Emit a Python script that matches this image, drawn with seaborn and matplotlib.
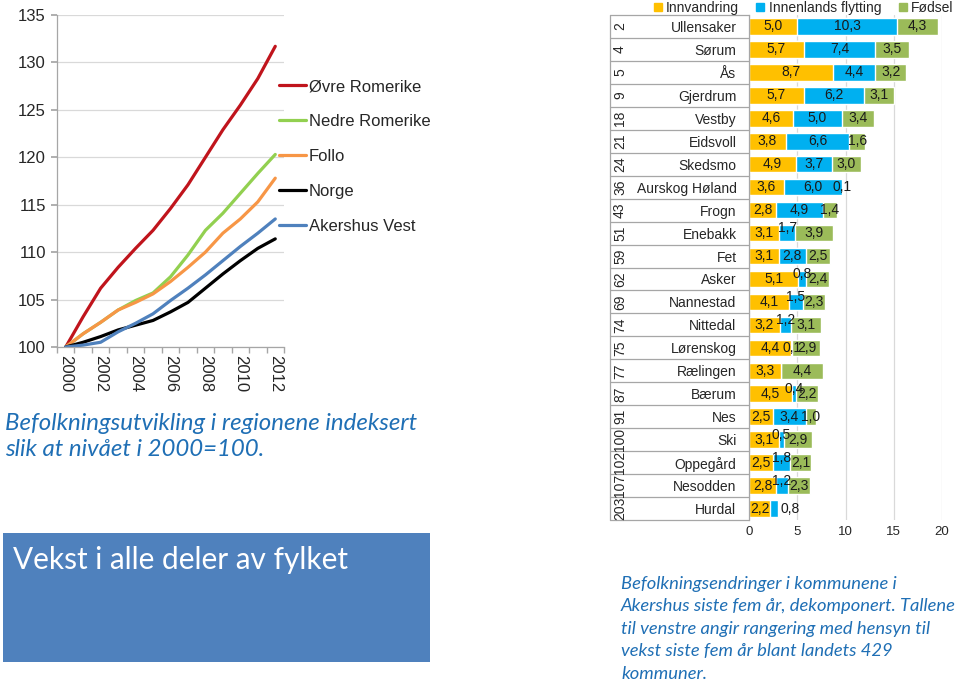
import numpy as np
import pandas as pd
import seaborn as sns
import matplotlib.pyplot as plt
import matplotlib.transforms as mtransforms
from matplotlib.patches import Rectangle
from matplotlib.lines import Line2D

# --- left chart: indexed population growth (2000 = 100)
years = list(range(2000, 2013))
regions = ['Øvre Romerike', 'Nedre Romerike', 'Follo', 'Norge', 'Akershus Vest']
ovre_romerike = [100, 103.2, 106.2, 108.4, 110.4, 112.3, 114.6, 117.1, 120.0, 122.9, 125.5, 128.3, 131.7]
nedre_romerike = [100, 101.4, 102.6, 103.9, 104.9, 105.7, 107.4, 109.7, 112.3, 114.1, 116.2, 118.3, 120.3]
follo = [100, 101.4, 102.6, 103.9, 104.7, 105.6, 106.9, 108.4, 110.0, 112.0, 113.5, 115.3, 117.8]
norge = [100, 100.5, 101.1, 101.8, 102.3, 102.8, 103.7, 104.7, 106.2, 107.7, 109.1, 110.4, 111.4]
akershus_vest = [100, 100.2, 100.5, 101.6, 102.5, 103.5, 104.9, 106.2, 107.6, 109.1, 110.6, 112.0, 113.5]
line_colors = ['#C0141C', '#92D050', '#F79646', '#000000', '#4F81BD']

# --- right chart: decomposed change per municipality, last five years
kommuner = ['Ullensaker', 'Sørum', 'Ås', 'Gjerdrum', 'Vestby', 'Eidsvoll', 'Skedsmo',
            'Aurskog Høland', 'Frogn', 'Enebakk', 'Fet', 'Asker', 'Nannestad', 'Nittedal',
            'Lørenskog', 'Rælingen', 'Bærum', 'Nes', 'Ski', 'Oppegård', 'Nesodden', 'Hurdal']
rangering = [2, 4, 5, 9, 18, 21, 24, 36, 43, 51, 59, 62, 69, 74, 75, 77, 87, 91, 100, 102, 107, 203]
innvandring = [5.0, 5.7, 8.7, 5.7, 4.6, 3.8, 4.9, 3.6, 2.8, 3.1, 3.1, 5.1, 4.1, 3.2, 4.4, 3.3, 4.5, 2.5, 3.1, 2.5, 2.8, 2.2]
innenlands = [10.3, 7.4, 4.4, 6.2, 5.0, 6.6, 3.7, 6.0, 4.9, 1.7, 2.8, 0.8, 1.5, 1.2, 0.1, 0.0, 0.4, 3.4, 0.5, 1.8, 1.2, 0.8]
fodsel = [4.3, 3.5, 3.2, 3.1, 3.4, 1.6, 3.0, 0.1, 1.4, 3.9, 2.5, 2.4, 2.3, 3.1, 2.9, 4.4, 2.2, 1.0, 2.9, 2.1, 2.3, 0.0]
komponenter = ['Innvandring', 'Innenlands flytting', 'Fødsel']
bar_colors = ['#FFC000', '#00B0F0', '#9BBB59']

sns.set_theme(style='white')
plt.rcParams['font.family'] = ['Liberation Sans', 'DejaVu Sans']

W, H = 960, 682
fig = plt.figure(figsize=(9.6, 6.82), dpi=100)

# ---------------- left line chart
ax1 = fig.add_axes([57 / W, 1 - 347 / H, 227 / W, 332 / H])
df_lines = pd.DataFrame({
    'year': years * 5,
    'index': ovre_romerike + nedre_romerike + follo + norge + akershus_vest,
    'region': sum([[r] * len(years) for r in regions], []),
})
sns.lineplot(data=df_lines, x='year', y='index', hue='region', hue_order=regions,
             palette=line_colors, linewidth=2.3, legend=False, ax=ax1)
ax1.set_xlim(1999.5, 2012.5)
ax1.set_ylim(100, 135)
ax1.set_yticks(range(100, 136, 5))
ax1.set_xticks(years[::2])
ax1.set_xticks(np.arange(1999.5, 2013, 1), minor=True)
ax1.tick_params(axis='x', which='major', length=0, pad=6, labelsize=12, labelrotation=-90)
ax1.tick_params(axis='x', which='minor', length=4, color='#A6A6A6', direction='out', bottom=True)
ax1.tick_params(axis='y', length=4, color='#A6A6A6', direction='out', left=True, labelsize=12, pad=4)
ax1.yaxis.grid(True, color='#D9D9D9', linewidth=0.9)
ax1.set_xlabel('')
ax1.set_ylabel('')
for s in ['top', 'right']:
    ax1.spines[s].set_visible(False)
for s in ['left', 'bottom']:
    ax1.spines[s].set_color('#A6A6A6')
    ax1.spines[s].set_linewidth(0.9)

handles = [Line2D([], [], color=c, linewidth=2.3) for c in line_colors]
fig.legend(handles, regions, loc='upper left', bbox_to_anchor=(279 / W, 1 - 79 / H),
           frameon=False, fontsize=12, handlelength=1.6, handletextpad=0.2,
           labelspacing=1.2, borderpad=0, borderaxespad=0)

fig.text(5 / W, 1 - 413 / H, 'Befolkningsutvikling i regionene indeksert\nslik at nivået i 2000=100.',
         family='Lato', style='italic', color='#1F6FB5', fontsize=17.3, va='top', linespacing=1.32)

fig.patches.append(Rectangle((3 / W, 1 - 662 / H), 427 / W, 129 / H, transform=fig.transFigure,
                             facecolor='#4F81BD', edgecolor='none'))
fig.text(13 / W, 1 - 560 / H, 'Vekst i alle deler av fylket', family='Lato', color='white',
         fontsize=21.4, va='center')

# ---------------- right stacked bar chart
ax2 = fig.add_axes([749 / W, 1 - 520 / H, 193 / W, 505 / H])
cum1 = np.array(innvandring)
cum2 = cum1 + np.array(innenlands)
cum3 = cum2 + np.array(fodsel)
for total, col in zip([cum3, cum2, cum1], bar_colors[::-1]):
    sns.barplot(x=list(total), y=kommuner, color=col, saturation=1, width=0.72,
                orient='h', ax=ax2)
ax2.set_xlim(0, 20)
ax2.set_ylim(21.5, -0.5)
ax2.set_xticks([0, 5, 10, 15, 20])
ax2.set_axisbelow(True)
ax2.xaxis.grid(True, color='#D9D9D9', linewidth=0.9)
ax2.tick_params(axis='x', length=0, pad=4, labelsize=9.5)
ax2.tick_params(axis='y', length=0, pad=9, labelsize=10)
ax2.set_xlabel('')
ax2.set_ylabel('')
for s in ['top', 'right', 'bottom']:
    ax2.spines[s].set_visible(False)
ax2.spines['left'].set_color('#A6A6A6')
ax2.spines['left'].set_linewidth(0.9)

# value labels
segments = list(zip(innvandring, innenlands, fodsel))
for i, seg in enumerate(segments):
    start = 0
    for j, v in enumerate(seg):
        if v > 0:
            txt = f'{v:.1f}'.replace('.', ',')
            x, y, ha = start + v / 2, i, 'center'
            rest = sum(seg[j + 1:])
            if j == 1 and rest == 0 and v < 1:
                x, ha = start + v + 0.25, 'left'
            elif j == 1 and 0.2 < v < 1.9:
                y = i - 0.2
            ax2.text(x, y, txt, ha=ha, va='center', fontsize=10, color='#1a1a1a')
        start += v

# category table on the left (ranks + separators)
trans = mtransforms.blended_transform_factory(ax2.transAxes, ax2.transData)
x_left = -(749 - 610) / 193
for k in range(len(kommuner) + 1):
    ax2.plot([x_left, 0], [k - 0.5, k - 0.5], transform=trans, color='#A6A6A6',
             linewidth=0.9, clip_on=False)
ax2.plot([x_left, x_left], [-0.5, len(kommuner) - 0.5], transform=trans, color='#A6A6A6',
         linewidth=0.9, clip_on=False)
for k, r in enumerate(rangering):
    ax2.text(-(749 - 620) / 193, k, str(r), transform=trans, rotation=90, ha='center',
             va='center', fontsize=10)

bar_handles = [Line2D([], [], marker='s', linestyle='none', markersize=6, color=c) for c in bar_colors]
fig.legend(bar_handles, komponenter, loc='upper left', bbox_to_anchor=(652 / W, 1.0),
           ncol=3, frameon=False, fontsize=10, handlelength=0.7, handletextpad=0.25,
           columnspacing=1.2, borderpad=0.05, borderaxespad=0)

fig.text(621 / W, 1 - 576 / H,
         'Befolkningsendringer i kommunene i\nAkershus siste fem år, dekomponert. Tallene\n'
         'til venstre angir rangering med hensyn til\nvekst siste fem år blant landets 429\nkommuner.',
         family='Lato', style='italic', color='#1F6FB5', fontsize=13.2, va='top', linespacing=1.5)

fig.savefig('out.png', dpi=100)
